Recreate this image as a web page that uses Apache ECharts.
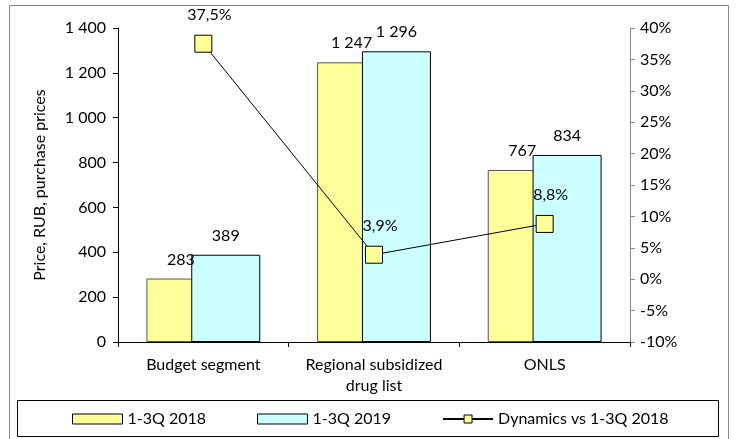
<!DOCTYPE html>
<html>
<head>
<meta charset="utf-8">
<script src="https://cdn.jsdelivr.net/npm/echarts@6/dist/echarts.min.js"></script>
<style>
  html, body { margin: 0; padding: 0; background: #fff; }
  #chart { width: 737px; height: 439px; }
</style>
</head>
<body>
<div id="chart"></div>
<script>
const categories = ["Budget segment", "Regional subsidized\ndrug list", "ONLS"];
const price2018 = [283, 1247, 767];
const price2019 = [389, 1296, 834];
const dynamics = [37.5, 3.9, 8.8];

const font = "Lato";
const fs = 16;

function spaced(v) {
  return String(v).replace(/\B(?=(\d{3})+(?!\d))/g, " ");
}
function pct(v) {
  return v.toFixed(1).replace(".", ",") + "%";
}

let myChart = echarts.init(document.getElementById("chart"));
myChart.setOption({
  animation: false,
  textStyle: { fontFamily: font, color: "#000" },
  grid: { left: 118, right: 107, top: 28, bottom: 97 },
  graphic: [
    {
      type: "rect",
      shape: { x: 9.5, y: 5.5, width: 719, height: 440 },
      style: { fill: null, stroke: "#888", lineWidth: 1 },
      silent: true,
    },
    {
      type: "rect",
      shape: { x: 17.5, y: 400.5, width: 701, height: 36 },
      style: { fill: null, stroke: "#000", lineWidth: 1 },
      silent: true,
    },
  ],
  legend: {
    left: 72,
    top: 411,
    padding: 0,
    itemWidth: 50,
    itemHeight: 10,
    itemGap: 51,
    itemStyle: { borderWidth: 1, borderColor: "#000" },
    textStyle: { fontFamily: font, fontSize: fs, color: "#000" },
    data: [
      { name: "1-3Q 2018", icon: "rect" },
      { name: "1-3Q 2019", icon: "rect" },
      { name: "Dynamics vs 1-3Q 2018" },
    ],
  },
  xAxis: {
    type: "category",
    data: categories,
    axisLine: { lineStyle: { color: "#000", width: 1 } },
    axisTick: { show: true, length: 5, alignWithLabel: false, lineStyle: { color: "#000" } },
    axisLabel: { interval: 0, fontFamily: font, fontSize: fs, color: "#000", margin: 12, lineHeight: 21 },
  },
  yAxis: [
    {
      type: "value",
      min: 0,
      max: 1400,
      interval: 200,
      name: "Price, RUB, purchase prices",
      nameLocation: "middle",
      nameGap: 70,
      nameTextStyle: { fontFamily: font, fontSize: fs, color: "#000" },
      splitLine: { show: false },
      axisLine: { show: true, lineStyle: { color: "#000" } },
      axisTick: { show: true, length: 5, lineStyle: { color: "#000" } },
      axisLabel: { fontFamily: font, fontSize: fs, color: "#000", margin: 12, formatter: spaced },
    },
    {
      type: "value",
      min: -10,
      max: 40,
      interval: 5,
      position: "right",
      splitLine: { show: false },
      axisLine: { show: true, lineStyle: { color: "#888" } },
      axisTick: { show: true, length: 5, lineStyle: { color: "#888" } },
      axisLabel: { fontFamily: font, fontSize: fs, color: "#000", margin: 10, formatter: (v) => v + "%" },
    },
  ],
  series: [
    {
      name: "1-3Q 2018",
      type: "bar",
      data: price2018,
      barWidth: 69,
      barGap: "-35%",
      itemStyle: { color: "#FFFF99", borderColor: "#555", borderWidth: 1 },
      label: { show: true, position: "top", distance: 11, fontFamily: font, fontSize: fs, color: "#000", formatter: (p) => spaced(p.value) },
    },
    {
      name: "1-3Q 2019",
      type: "bar",
      data: price2019,
      barWidth: 69,
      barGap: "-35%",
      itemStyle: { color: "#CCFFFF", borderColor: "#000", borderWidth: 1 },
      label: { show: true, position: "top", distance: 11, fontFamily: font, fontSize: fs, color: "#000", formatter: (p) => spaced(p.value) },
    },
    {
      name: "Dynamics vs 1-3Q 2018",
      type: "line",
      yAxisIndex: 1,
      data: dynamics,
      symbol: "rect",
      symbolSize: 17,
      lineStyle: { color: "#000", width: 1 },
      itemStyle: { color: "#FFFF99", borderColor: "#000", borderWidth: 1 },
      label: { show: true, position: "top", distance: 12, offset: [6, 0], fontFamily: font, fontSize: fs, color: "#000", formatter: (p) => pct(p.value) },
      z: 5,
    },
  ],
});
</script>
</body>
</html>
